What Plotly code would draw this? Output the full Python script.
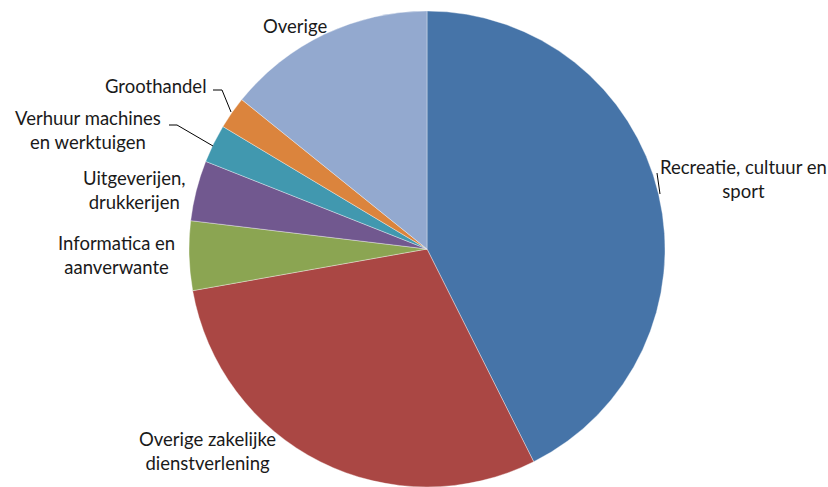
import plotly.graph_objects as go

# Sector shares (percent), clockwise from 12 o'clock
sectors = [
    "Recreatie, cultuur en sport",
    "Overige zakelijke dienstverlening",
    "Informatica en aanverwante",
    "Uitgeverijen, drukkerijen",
    "Verhuur machines en werktuigen",
    "Groothandel",
    "Overige",
]
shares = [42.6, 29.6, 4.7, 4.1, 2.6, 2.2, 14.2]
colors = ["#4674A8", "#AA4744", "#8BA552", "#71588F", "#4198AF", "#DB843D", "#93A9CF"]

W, H = 828, 487


def px(x):
    return x / W


def py(y):
    return 1 - y / H


fig = go.Figure(
    go.Pie(
        labels=sectors,
        values=shares,
        sort=False,
        direction="clockwise",
        rotation=0,
        marker=dict(colors=colors, line=dict(color="rgba(255,255,255,0.6)", width=0.6)),
        textinfo="none",
        hoverinfo="label+percent",
        showlegend=False,
        domain=dict(x=[px(189), px(665)], y=[0, py(11)]),
    )
)

# Label text and positions (pixel centres)
label_texts = [
    "Recreatie, cultuur en<br>sport",
    "Overige zakelijke<br>dienstverlening",
    "Informatica en<br>aanverwante",
    "Uitgeverijen,<br>drukkerijen",
    "Verhuur machines<br>en werktuigen",
    "Groothandel",
    "Overige",
]
label_pos = [(743, 179), (207, 451), (116, 255), (134, 190), (88, 130), (156, 86), (295, 26)]

for txt, (x, y) in zip(label_texts, label_pos):
    fig.add_annotation(
        x=px(x), y=py(y), xref="paper", yref="paper",
        text=txt, showarrow=False, align="center",
        xanchor="center", yanchor="middle",
        font=dict(family="Lato, Open Sans, sans-serif", size=18.5, color="#1a1a1a"),
    )

# Leader lines
leaders = [
    [(213, 90), (222, 90), (231, 112)],
    [(169, 125), (177, 125), (213, 146)],
    [(657, 173), (660, 194)],
]
for pts in leaders:
    path = "M " + " L ".join(f"{px(x)},{py(y)}" for x, y in pts)
    fig.add_shape(type="path", path=path, xref="paper", yref="paper",
                  line=dict(color="black", width=1))

fig.update_layout(
    width=W, height=H,
    margin=dict(l=0, r=0, t=0, b=0),
    paper_bgcolor="white",
    plot_bgcolor="white",
)

fig.write_html("out.html")
